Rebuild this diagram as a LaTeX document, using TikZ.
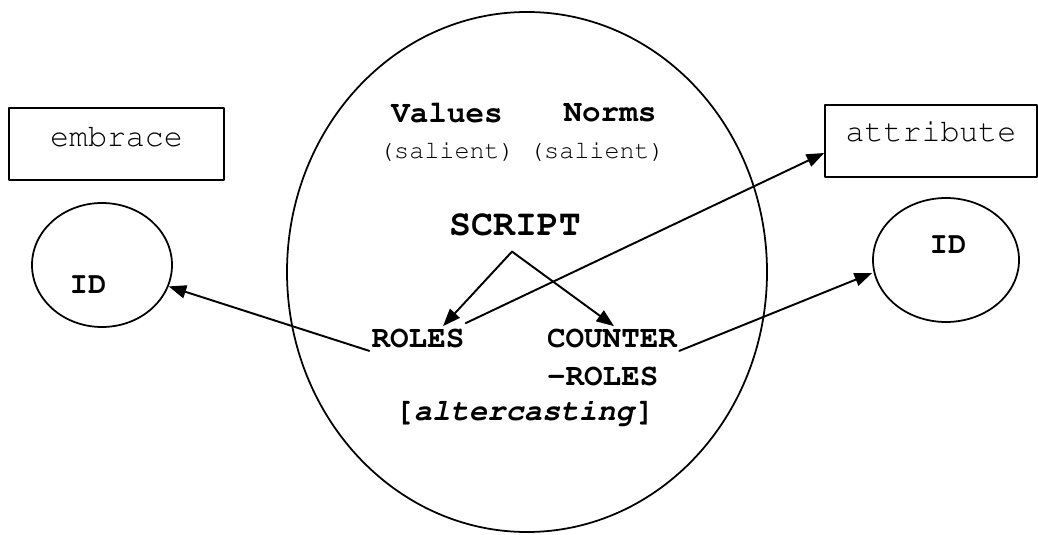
\documentclass[tikz,border=0pt]{standalone}
\usepackage[T1]{fontenc}
\usepackage{courier}
\usepackage{tikz}
\usetikzlibrary{arrows.meta,shapes.geometric}
\renewcommand{\familydefault}{\ttdefault}
\newcommand{\wordsz}{\fontsize{18}{21.6}\selectfont}
\newcommand{\smallsz}{\fontsize{14.3}{17}\selectfont}
\newcommand{\headsz}{\fontsize{20.8}{25}\selectfont}
\tikzset{
  every picture/.style={line join=round, line cap=round, >={Triangle[length=10pt,width=7.5pt]}},
  oval/.style={draw,ellipse,line width=1pt,inner sep=0pt},
  tagbox/.style={draw,rectangle,line width=0.9pt,inner sep=0pt,minimum width=4.3cm,minimum height=1.44cm},
  word/.style={inner sep=0.04cm,font=\wordsz},
  bword/.style={inner sep=0.04cm,font=\wordsz\bfseries},
  link/.style={->,line width=1.1pt},
}

\begin{document}
\begin{tikzpicture}
\useasboundingbox (0,0) rectangle (20.76,10.68);
\node[oval,minimum width=9.6cm,minimum height=10.4cm] (field) at (10.54,5.24) {};
\node[tagbox] (embr) at (2.33,7.80) {};
\node[word] (embrtxt) at ([yshift=0.14cm]embr.center) {embrace};
\node[tagbox,minimum width=4.24cm] (attr) at (18.62,7.86) {};
\node[word] (attrtxt) at ([yshift=0.18cm]attr.center) {attribute};
\node[oval,minimum width=2.80cm,minimum height=2.48cm] (idl) at (2.04,5.38) {};
\node[bword,font=\fontsize{17.4}{21}\selectfont\bfseries] (idltxt) at (1.76,4.98) {ID};
\node[oval,minimum width=2.92cm,minimum height=2.48cm] (idr) at (18.92,5.48) {};
\node[bword,font=\fontsize{17.4}{21}\selectfont\bfseries] (idrtxt) at (18.96,5.78) {ID};
\node[bword,font=\fontsize{17.6}{21}\selectfont\bfseries] (values) at (8.94,8.42) {Values};
\node[bword,font=\fontsize{17.6}{21}\selectfont\bfseries] (norms) at (12.20,8.42) {Norms};
\node[word,font=\smallsz] (salv) at (8.94,7.64) {(salient)};
\node[word,font=\smallsz] (saln) at (11.94,7.64) {(salient)};
\node[bword,font=\headsz\bfseries] (script) at (10.30,6.18) {SCRIPT};
\node[bword,font=\fontsize{17.6}{21}\selectfont\bfseries] (roles) at (8.36,3.90) {ROLES};
\node[bword,font=\fontsize{17.6}{21}\selectfont\bfseries] (counter) at (12.24,3.90) {COUNTER};
\node[bword,font=\fontsize{17.6}{21}\selectfont\bfseries,anchor=west] (minusroles) at ([yshift=-0.76cm]counter.west) {-ROLES};
\node[bword,font=\fontsize{17.4}{21}\selectfont\bfseries] (alter) at (10.50,2.44) {[\textit{altercasting}]};
\coordinate (fork) at ([xshift=-0.06cm,yshift=-0.26cm]script.south);
\draw[link] (fork) -- ([xshift=0.5cm,yshift=0.02cm]roles.north);
\draw[link] (fork) -- ([xshift=0.04cm,yshift=0.02cm]counter.north);
\draw[link] (roles.south west) -- (idl);
\draw[link] ([xshift=-0.02cm,yshift=0.08cm]roles.north east) -- ([yshift=-0.24cm]attr.west);
\draw[link] (counter.south east) -- ([yshift=-0.26cm]idr.west);
\end{tikzpicture}
\end{document}
